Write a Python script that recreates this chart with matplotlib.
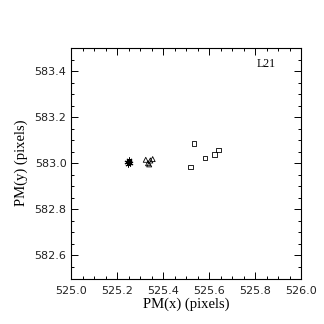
import matplotlib
matplotlib.use("Agg")
import matplotlib.pyplot as plt
from matplotlib.ticker import MultipleLocator, FormatStrFormatter

# Data
star_x = [525.245, 525.250, 525.255, 525.248, 525.252]
star_y = [583.005, 583.010, 583.000, 582.995, 583.012]
tri_x = [525.325, 525.335, 525.345, 525.355, 525.340]
tri_y = [583.015, 583.000, 583.012, 583.018, 582.995]
sq_x = [525.520, 525.535, 525.583, 525.625, 525.642]
sq_y = [582.984, 583.086, 583.022, 583.039, 583.057]
label_text = "L21"

fig = plt.figure(figsize=(3.24, 3.24), dpi=100)
ax = fig.add_axes([71/324, 1-278.5/324, 230/324, 230.5/324])

ax.scatter(star_x, star_y, marker=(6, 2, 0), s=14, color='black', linewidths=0.7)
ax.scatter(tri_x, tri_y, marker='^', s=13, facecolors='none', edgecolors='black', linewidths=0.6)
ax.scatter(sq_x, sq_y, marker='s', s=11, facecolors='none', edgecolors='black', linewidths=0.6)

ax.set_xlim(525.0, 526.0)
ax.set_ylim(582.5, 583.5)
ax.xaxis.set_major_locator(MultipleLocator(0.2))
ax.xaxis.set_minor_locator(MultipleLocator(0.05))
ax.yaxis.set_major_locator(MultipleLocator(0.2))
ax.yaxis.set_minor_locator(MultipleLocator(0.05))
ax.xaxis.set_major_formatter(FormatStrFormatter('%.1f'))
ax.yaxis.set_major_formatter(FormatStrFormatter('%.1f'))
ax.tick_params(which='both', direction='in', top=True, right=True, width=0.7)
ax.tick_params(which='major', length=5, labelsize=8)
ax.tick_params(which='minor', length=2.5)
ax.tick_params(axis='x', which='major', pad=5.5)
ax.tick_params(axis='y', which='major', pad=3.2)
for lab in ax.get_xticklabels() + ax.get_yticklabels():
    lab.set_family('DejaVu Sans')
    lab.set_color('#222222')
for s in ax.spines.values():
    s.set_linewidth(0.8)

ax.set_xlabel('PM(x) (pixels)', family='Liberation Serif', fontsize=10.5, labelpad=1)
ax.set_ylabel('PM(y) (pixels)', family='Liberation Serif', fontsize=10.5, labelpad=5)
ax.text(525.848, 583.43, label_text, family='Liberation Serif', fontsize=8.5, ha='center', va='center')

fig.savefig('out.png', dpi=100)
